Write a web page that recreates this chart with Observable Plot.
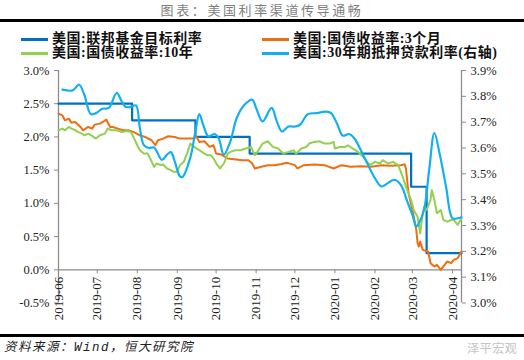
<!DOCTYPE html>
<html><head><meta charset="utf-8">
<script src="https://cdn.jsdelivr.net/npm/d3@7"></script>
<script src="https://cdn.jsdelivr.net/npm/@observablehq/plot@0.6"></script>
<style>
body{margin:0;background:#fff;}
#wrap{position:relative;width:524px;height:360px;overflow:hidden;font-family:"Liberation Serif","Noto Sans CJK SC",serif;}
.title{position:absolute;left:0;top:2px;width:524px;text-align:center;font-size:13px;line-height:16px;color:#7f7f7f;letter-spacing:2.6px;font-family:"Noto Sans CJK SC",sans-serif;}
.rule{position:absolute;left:0;width:524px;background:#000;}
.lg{position:absolute;font-size:14px;font-weight:bold;letter-spacing:0.5px;color:#111;white-space:nowrap;line-height:14px;}
.sw{position:absolute;height:3px;width:27px;}
.src{position:absolute;left:4px;top:341px;font-size:12.5px;line-height:14px;font-style:italic;color:#222;letter-spacing:1.5px;font-family:"Liberation Mono","Noto Sans CJK SC",monospace;}
.wm{position:absolute;left:467px;top:341px;font-size:12.5px;line-height:14px;color:#c4c4c4;font-family:"Noto Sans CJK SC",sans-serif;}
#chart{position:absolute;left:0;top:62px;}
</style></head><body>
<div id="wrap">
  <div class="title">图表：美国利率渠道传导通畅</div>
  <div class="rule" style="top:19px;height:3px"></div>
  <div id="legend"></div>
  <div id="chart"></div>
  <div class="rule" style="top:334px;height:2.5px"></div>
  <div class="src">资料来源：Wind，恒大研究院</div>
  <div class="wm">泽平宏观</div>
</div>
<script>
// ---- data ----
const monthTicks = ["2019-06","2019-07","2019-08","2019-09","2019-10","2019-11","2019-12","2020-01","2020-02","2020-03","2020-04"];
const leftTicks = [-0.5, 0, 0.5, 1.0, 1.5, 2.0, 2.5, 3.0];
const rightTicks = [3.0, 3.1, 3.2, 3.3, 3.4, 3.5, 3.6, 3.7, 3.8, 3.9];
const seriesNames = ["美国:联邦基金目标利率","美国:国债收益率:3个月","美国:国债收益率:10年","美国:30年期抵押贷款利率(右轴)"];
const seriesColors = ["#0070C0","#EE6F10","#92D050","#12B0F0"];

const fedDates = ["2019-06-01","2019-07-28","2019-09-15","2019-10-27","2020-02-29","2020-03-12","2020-04-08"];
const fedValues = [2.50, 2.25, 2.00, 1.75, 1.25, 0.25, 0.25];

const bill3mDates = ["2019-06-01","2019-06-04","2019-06-06","2019-06-09","2019-06-11","2019-06-14","2019-06-18","2019-06-20","2019-06-24","2019-06-27","2019-06-29","2019-07-03","2019-07-06","2019-07-08","2019-07-11","2019-07-13","2019-07-17","2019-07-21","2019-07-25","2019-07-29","2019-08-03","2019-08-07","2019-08-12","2019-08-15","2019-08-17","2019-08-21","2019-08-25","2019-08-30","2019-09-03","2019-09-07","2019-09-13","2019-09-16","2019-09-18","2019-09-22","2019-09-26","2019-09-29","2019-10-01","2019-10-05","2019-10-10","2019-10-15","2019-10-21","2019-10-26","2019-10-29","2019-10-31","2019-11-05","2019-11-10","2019-11-15","2019-11-20","2019-11-25","2019-12-01","2019-12-03","2019-12-08","2019-12-16","2019-12-24","2019-12-31","2020-01-06","2020-01-13","2020-01-21","2020-01-29","2020-02-06","2020-02-13","2020-02-21","2020-02-24","2020-02-25","2020-02-27","2020-03-01","2020-03-04","2020-03-05","2020-03-06","2020-03-07","2020-03-09","2020-03-13","2020-03-14","2020-03-15","2020-03-18","2020-03-20","2020-03-23","2020-03-25","2020-03-28","2020-03-31","2020-04-02","2020-04-05","2020-04-08"];
const bill3mValues = [2.35,2.325,2.25,2.275,2.215,2.225,2.15,2.10,2.15,2.125,2.185,2.20,2.235,2.26,2.15,2.15,2.125,2.10,2.10,2.075,2.025,2.00,1.95,1.875,1.95,1.975,2.01,2.00,1.975,1.975,1.975,2.00,1.925,1.935,1.85,1.875,1.75,1.735,1.675,1.665,1.65,1.65,1.60,1.525,1.55,1.575,1.575,1.59,1.61,1.575,1.525,1.575,1.585,1.575,1.525,1.575,1.55,1.56,1.55,1.575,1.565,1.575,1.59,1.525,1.15,0.90,0.60,0.40,0.35,0.425,0.30,0.275,0.20,0.10,0.05,0.075,0.00,0.05,0.125,0.10,0.15,0.175,0.275];

const t10yDates = ["2019-06-01","2019-06-04","2019-06-06","2019-06-09","2019-06-11","2019-06-14","2019-06-16","2019-06-19","2019-06-21","2019-06-24","2019-06-27","2019-06-30","2019-07-03","2019-07-07","2019-07-09","2019-07-12","2019-07-16","2019-07-20","2019-07-24","2019-07-27","2019-07-29","2019-08-01","2019-08-03","2019-08-06","2019-08-09","2019-08-11","2019-08-14","2019-08-16","2019-08-19","2019-08-21","2019-08-24","2019-08-27","2019-08-29","2019-09-01","2019-09-03","2019-09-06","2019-09-09","2019-09-11","2019-09-14","2019-09-18","2019-09-22","2019-09-24","2019-09-27","2019-09-29","2019-10-02","2019-10-04","2019-10-07","2019-10-10","2019-10-12","2019-10-16","2019-10-20","2019-10-24","2019-10-28","2019-10-31","2019-11-02","2019-11-06","2019-11-10","2019-11-14","2019-11-18","2019-11-22","2019-11-26","2019-11-30","2019-12-02","2019-12-06","2019-12-10","2019-12-12","2019-12-16","2019-12-20","2019-12-24","2019-12-28","2019-12-31","2020-01-01","2020-01-05","2020-01-09","2020-01-11","2020-01-15","2020-01-19","2020-01-24","2020-01-28","2020-02-01","2020-02-05","2020-02-07","2020-02-11","2020-02-15","2020-02-19","2020-02-22","2020-02-26","2020-02-29","2020-03-02","2020-03-05","2020-03-07","2020-03-09","2020-03-10","2020-03-12","2020-03-15","2020-03-16","2020-03-18","2020-03-20","2020-03-23","2020-03-25","2020-03-28","2020-03-31","2020-04-02","2020-04-05","2020-04-08"];
const t10yValues = [2.10,2.125,2.10,2.15,2.125,2.10,2.075,2.05,2.025,2.05,2.015,1.975,2.025,2.05,2.125,2.10,2.10,2.075,2.09,2.075,2.00,1.875,1.80,1.75,1.75,1.675,1.55,1.60,1.575,1.585,1.525,1.50,1.475,1.475,1.575,1.625,1.775,1.90,1.85,1.80,1.75,1.725,1.725,1.675,1.575,1.525,1.60,1.75,1.775,1.80,1.80,1.825,1.85,1.725,1.775,1.90,1.935,1.85,1.825,1.75,1.775,1.80,1.75,1.825,1.85,1.90,1.925,1.935,1.90,1.90,1.925,1.825,1.85,1.85,1.875,1.825,1.775,1.675,1.575,1.625,1.60,1.65,1.60,1.625,1.575,1.425,1.20,1.05,0.90,0.80,0.55,0.85,0.95,0.90,1.05,1.20,1.05,0.85,0.90,0.75,0.725,0.75,0.75,0.675,0.775];

const mortDates = ["2019-06-04","2019-06-12","2019-06-17","2019-06-21","2019-06-26","2019-06-30","2019-07-05","2019-07-10","2019-07-16","2019-07-20","2019-07-23","2019-07-27","2019-07-31","2019-08-03","2019-08-06","2019-08-10","2019-08-14","2019-08-20","2019-08-24","2019-08-27","2019-08-30","2019-09-03","2019-09-05","2019-09-11","2019-09-15","2019-09-18","2019-09-21","2019-09-25","2019-09-30","2019-10-03","2019-10-07","2019-10-12","2019-10-17","2019-10-23","2019-10-29","2019-11-01","2019-11-06","2019-11-13","2019-11-17","2019-11-21","2019-11-26","2019-12-01","2019-12-05","2019-12-11","2019-12-18","2019-12-25","2019-12-29","2020-01-03","2020-01-07","2020-01-12","2020-01-16","2020-01-24","2020-02-01","2020-02-06","2020-02-11","2020-02-16","2020-02-21","2020-02-26","2020-03-01","2020-03-04","2020-03-06","2020-03-10","2020-03-14","2020-03-18","2020-03-22","2020-03-27","2020-04-01","2020-04-05","2020-04-08"];
const mortValues = [3.826,3.823,3.845,3.806,3.731,3.735,3.752,3.755,3.813,3.780,3.759,3.759,3.765,3.677,3.612,3.600,3.602,3.554,3.574,3.584,3.548,3.490,3.488,3.562,3.664,3.731,3.690,3.645,3.654,3.638,3.574,3.625,3.716,3.767,3.787,3.755,3.703,3.755,3.703,3.664,3.683,3.683,3.690,3.731,3.735,3.741,3.735,3.690,3.648,3.654,3.638,3.561,3.483,3.451,3.464,3.477,3.457,3.393,3.341,3.296,3.309,3.360,3.516,3.658,3.580,3.451,3.328,3.328,3.332];

// ---- build ----
const parse = d3.utcParse("%Y-%m-%d");
const zip = (ds, vs) => ds.map((d, i) => ({date: parse(d), v: vs[i]}));
const fed = zip(fedDates, fedValues);
const bill3m = zip(bill3mDates, bill3mValues);
const t10y = zip(t10yDates, t10yValues);
const mort = zip(mortDates, mortValues);
const tickDates = monthTicks.map(m => parse(m + "-01"));
const xStart = parse("2019-06-01"), xEnd = parse("2020-04-08");
// right axis (3.0%..3.9%) mapped onto left axis (-0.5%..3.0%)
const L0 = leftTicks[0], L1 = leftTicks[leftTicks.length - 1];
const R0 = rightTicks[0], R1 = rightTicks[rightTicks.length - 1];
const toLeft = r => L0 + (r - R0) / (R1 - R0) * (L1 - L0);
const toRight = l => R0 + (l - L0) / (L1 - L0) * (R1 - R0);

const axisGray = "#8c8c8c";
const chart = Plot.plot({
  width: 524, height: 273,
  marginLeft: 58, marginRight: 63, marginTop: 8, marginBottom: 32.5,
  x: {type: "utc", domain: [xStart, xEnd], axis: null},
  y: {domain: [L0, L1], axis: null},
  style: {fontFamily: "'Liberation Serif', serif", fontSize: "12.5px", color: "#222", background: "transparent"},
  marks: [
    Plot.axisY(leftTicks, {anchor: "left", tickSize: 4, tickPadding: 5, stroke: axisGray, fill: "#222", tickFormat: d => d.toFixed(1) + "%", label: null}),
    Plot.axisY(rightTicks.map(toLeft), {anchor: "right", tickSize: 4, tickPadding: 5, stroke: axisGray, fill: "#222", tickFormat: d => toRight(d).toFixed(1) + "%", label: null}),
    Plot.ruleX([xStart, xEnd], {stroke: axisGray, strokeWidth: 1.3}),
    Plot.ruleY([0], {stroke: axisGray, strokeWidth: 1.3}),
    Plot.ruleX(tickDates, {x: d => d, y1: 0, y2: 0, insetBottom: -4, stroke: axisGray, strokeWidth: 1}),
    Plot.text(tickDates, {x: d => d, y: 0, text: d => d3.utcFormat("%Y-%m")(d), rotate: -90, textAnchor: "end", dy: 7, fontSize: 13, fill: "#222"}),
    Plot.line(fed, {x: "date", y: "v", curve: "step-after", stroke: seriesColors[0], strokeWidth: 2.2}),
    Plot.line(bill3m, {x: "date", y: "v", stroke: seriesColors[1], strokeWidth: 2}),
    Plot.line(t10y, {x: "date", y: "v", stroke: seriesColors[2], strokeWidth: 2}),
    Plot.line(mort, {x: "date", y: d => toLeft(d.v), curve: "catmull-rom", stroke: seriesColors[3], strokeWidth: 2.2})
  ]
});
document.getElementById("chart").appendChild(chart);

// legend
const lgPos = [[21, 52, 39], [262, 293, 39], [21, 52, 53], [262, 293, 53]];
const lg = document.getElementById("legend");
seriesNames.forEach((name, i) => {
  const [sx, tx, y] = lgPos[i];
  const sw = document.createElement("div");
  sw.className = "sw";
  sw.style.left = sx + "px"; sw.style.top = (y - 1.5) + "px"; sw.style.background = seriesColors[i];
  lg.appendChild(sw);
  const t = document.createElement("div");
  t.className = "lg";
  t.style.left = tx + "px"; t.style.top = (y - 7) + "px";
  t.textContent = name;
  lg.appendChild(t);
});
</script>
</body></html>
